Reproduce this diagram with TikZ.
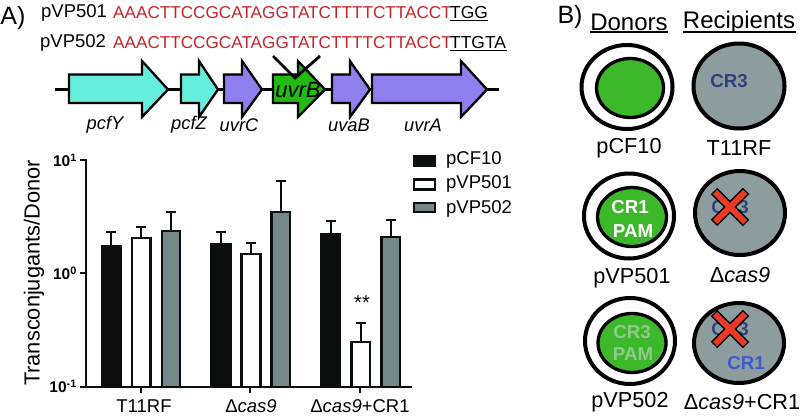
\documentclass[tikz,border=0pt]{standalone}
\usepackage{fontspec}
\setmainfont{Liberation Sans}
\usetikzlibrary{shapes.geometric}
\newcommand{\fz}[1]{\fontsize{#1}{#1}\selectfont}
\definecolor{seqred}{HTML}{C8242B}
\definecolor{cyangene}{HTML}{66EEDD}
\definecolor{purplegene}{HTML}{8F7FEE}
\definecolor{greengene}{HTML}{22BB11}
\definecolor{blackbar}{HTML}{0A0F0D}
\definecolor{graybar}{HTML}{75888A}
\definecolor{cellgray}{HTML}{8D9D9F}
\definecolor{cellgreen}{HTML}{3DB82A}
\definecolor{crdark}{HTML}{33407F}
\definecolor{crblue}{HTML}{3F5BCB}
\definecolor{crpale}{HTML}{8FCB8C}
\definecolor{xred}{HTML}{EE3A24}
\tikzset{
 lbl/.style={inner sep=0pt,anchor=center,font=\fz{18.5}},
 geneit/.style={inner sep=0pt,anchor=center,font=\fz{18.3}\itshape},
 seqname/.style={inner sep=0pt,anchor=west,font=\fz{18.5}},
 seqtext/.style={inner sep=0pt,anchor=west,font=\fz{17.15},text=seqred},
 pamtext/.style={inner sep=0pt,anchor=west,font=\fz{17.4}},
 panel/.style={inner sep=0pt,anchor=center,font=\fz{25}},
 head/.style={inner sep=0pt,anchor=center,font=\fz{24}},
 cellname/.style={inner sep=0pt,anchor=center,font=\fz{21.7}},
 crtext/.style={inner sep=0pt,anchor=center,font=\fz{18.7}\bfseries},
 gene/.style={draw=black,line width=2.3pt,line join=miter,miter limit=10},
 barbox/.style={draw=blackbar,line width=2.4pt},
 axisline/.style={draw=blackbar,line width=2pt},
 errline/.style={draw=blackbar,line width=2pt},
 tick/.style={inner sep=0pt,anchor=east,font=\fz{15.5}\bfseries},
 outercell/.style={ellipse,draw=black,line width=4pt,fill=white,inner sep=0pt},
 innercell/.style={ellipse,draw=black,line width=3.3pt,fill=cellgreen,inner sep=0pt},
 recipcell/.style={ellipse,draw=black,line width=4pt,fill=cellgray,inner sep=0pt},
 xmarkout/.style={draw=black,line width=9pt},
 xmarkin/.style={draw=xred,line width=5.8pt},
}
\newcommand{\genearrow}[4]{% start, neck, tip, colour
 \path[gene,fill=#4] (#1,74.5) -- (#2,74.5) -- (#2,61) -- (#3,89.5) -- (#2,117) -- (#2,103) -- (#1,103) -- cycle;}
\newcommand{\crossmark}[2]{%
 \draw[xmarkout] (#1-16,#2-16) -- (#1+16,#2+16) (#1+16,#2-16) -- (#1-16,#2+16);
 \draw[xmarkin] (#1-15,#2-15) -- (#1+15,#2+15) (#1+15,#2-15) -- (#1-15,#2+15);}
\begin{document}
\begin{tikzpicture}[x=1pt,y=-1pt]
\useasboundingbox[fill=white] (0,0) rectangle (810,418);
% panel A heading and sequences
\node[panel] (pa) at (13,18) {A)};
\node[seqname] (n501) at (41,13) {pVP501};
\node[seqname] (n502) at (40,43) {pVP502};
\node[seqtext] (s501) at (113,13) {AAACTTCCGCATAGGTATCTTTTCTTACCT};
\node[seqtext] (s502) at (113,43) {AAACTTCCGCATAGGTATCTTTTCTTACCT};
\node[pamtext] (p501) at (450,13) {TGG};
\node[pamtext] (p502) at (450,43) {TTGTA};
\draw[line width=1.4pt] (450,20.5) -- (488,20.5);
\draw[line width=1.4pt] (450,50.5) -- (507,50.5);
% gene track
\draw[line width=2.3pt] (55,89.5) -- (499,89.5);
\genearrow{69}{142}{168}{cyangene}
\genearrow{181}{199}{218}{cyangene}
\genearrow{224}{242}{262}{purplegene}
\genearrow{273}{298}{325}{greengene}
\genearrow{332}{350}{370}{purplegene}
\genearrow{372}{461}{487}{purplegene}
\node[geneit] (g1) at (105,125) {pcfY};
\node[geneit] (g2) at (189,125) {pcfZ};
\node[geneit] (g3) at (239,125) {uvrC};
\node[geneit,font=\fz{22}\itshape] (g4) at (298,90) {uvrB};
\node[geneit] (g5) at (349,125) {uvaB};
\node[geneit] (g6) at (423,125) {uvrA};
\draw[line width=2.8pt] (273,56) -- (295,78) -- (320,56);
% chart
\foreach \xa/\xb/\top/\err/\col in {
 102/120.5/246/232/blackbar, 132/150.5/238/227.3/white, 162/180/231/212/graybar,
 211.5/230.5/244/232/blackbar, 241.5/260.5/254/243/white, 271.5/290/212/181.3/graybar,
 321.5/340/234/220.7/blackbar, 351.5/370/342/323/white, 381.5/400/236.7/220/graybar}{
  \pgfmathsetmacro{\xm}{(\xa+\xb)/2}
  \draw[errline] (\xm,\top) -- (\xm,\err) (\xm-5,\err) -- (\xm+5,\err);
  \draw[barbox,fill=\col] (\xa,387) rectangle (\xb,\top);
}
\draw[axisline] (80,160) -- (86,160) -- (86,386.7) -- (412,386.7);
\draw[axisline] (80,273) -- (86,273) (80,386.7) -- (86,386.7);
\draw[axisline] (141,386.7) -- (141,393) (250,386.7) -- (250,393) (360,386.7) -- (360,393);
\node[tick] (t1) at (77,160) {10\textsuperscript{1}};
\node[tick] (t0) at (77,273) {10\textsuperscript{0}};
\node[tick] (tm) at (77,386) {10\textsuperscript{-1}};
\node[inner sep=0pt,anchor=center,font=\fz{21.8},rotate=90] (yl) at (34,273) {Transconjugants/Donor};
\node[lbl] (c1) at (144,406) {T11RF};
\node[lbl] (c2) at (251,406) {Δ\textit{cas9}};
\node[lbl] (c3) at (360,406) {Δ\textit{cas9}+CR1};
\node[inner sep=0pt,font=\fz{20}] (sig) at (362,303) {**};
% legend
\draw[barbox,fill=blackbar] (414,156) rectangle (435,166);
\draw[barbox,fill=white] (414,179.5) rectangle (435,189.5);
\draw[barbox,fill=graybar] (414,203) rectangle (435,212);
\node[lbl,anchor=west] (l1) at (446,160) {pCF10};
\node[lbl,anchor=west] (l2) at (446,184) {pVP501};
\node[lbl,anchor=west] (l3) at (446,209) {pVP502};
% panel B
\node[panel] (pb) at (570,17) {B)};
\node[head] (hd) at (629,22) {Donors};
\node[head] (hr) at (739,22) {Recipients};
\draw[line width=1.4pt] (590,32) -- (668,32) (683,32) -- (796,32);
% donors
\node[outercell,minimum width=91pt,minimum height=84pt] (d1) at (627,87) {};
\node[innercell,minimum width=67pt,minimum height=59pt] (i1) at (630,88) {};
\node[outercell,minimum width=90pt,minimum height=85pt] (d2) at (629,216) {};
\node[innercell,minimum width=69pt,minimum height=59pt] (i2) at (632,217) {};
\node[outercell,minimum width=90pt,minimum height=86pt] (d3) at (630,341) {};
\node[innercell,minimum width=68pt,minimum height=59pt] (i3) at (632,343) {};
\node[crtext,text=white] (a1) at (630,207) {CR1};
\node[crtext,text=white] (a2) at (633,231) {PAM};
\node[crtext,text=crpale] (b1) at (632,332) {CR3};
\node[crtext,text=crpale] (b2) at (633,354) {PAM};
% recipients
\node[recipcell,minimum width=91pt,minimum height=85pt] (r1) at (739,86) {};
\node[recipcell,minimum width=90pt,minimum height=84pt] (r2) at (740,213) {};
\node[recipcell,minimum width=90pt,minimum height=80pt] (r3) at (739,343) {};
\node[crtext,text=crdark] (e1) at (729,81) {CR3};
\node[crtext,text=crdark] (e2) at (730,207) {CR3};
\node[crtext,text=crdark] (e3) at (730,329) {CR3};
\node[crtext,text=crblue] (e4) at (746,363) {CR1};
\crossmark{730}{207}
\crossmark{730}{329}
% cell names
\node[cellname] (m1) at (629,148) {pCF10};
\node[cellname] (m2) at (739,148) {T11RF};
\node[cellname] (m3) at (632,278) {pVP501};
\node[cellname] (m4) at (740,275) {Δ\textit{cas9}};
\node[cellname] (m5) at (630,402) {pVP502};
\node[cellname] (m6) at (742,402) {Δ\textit{cas9}+CR1};
\end{tikzpicture}
\end{document}
